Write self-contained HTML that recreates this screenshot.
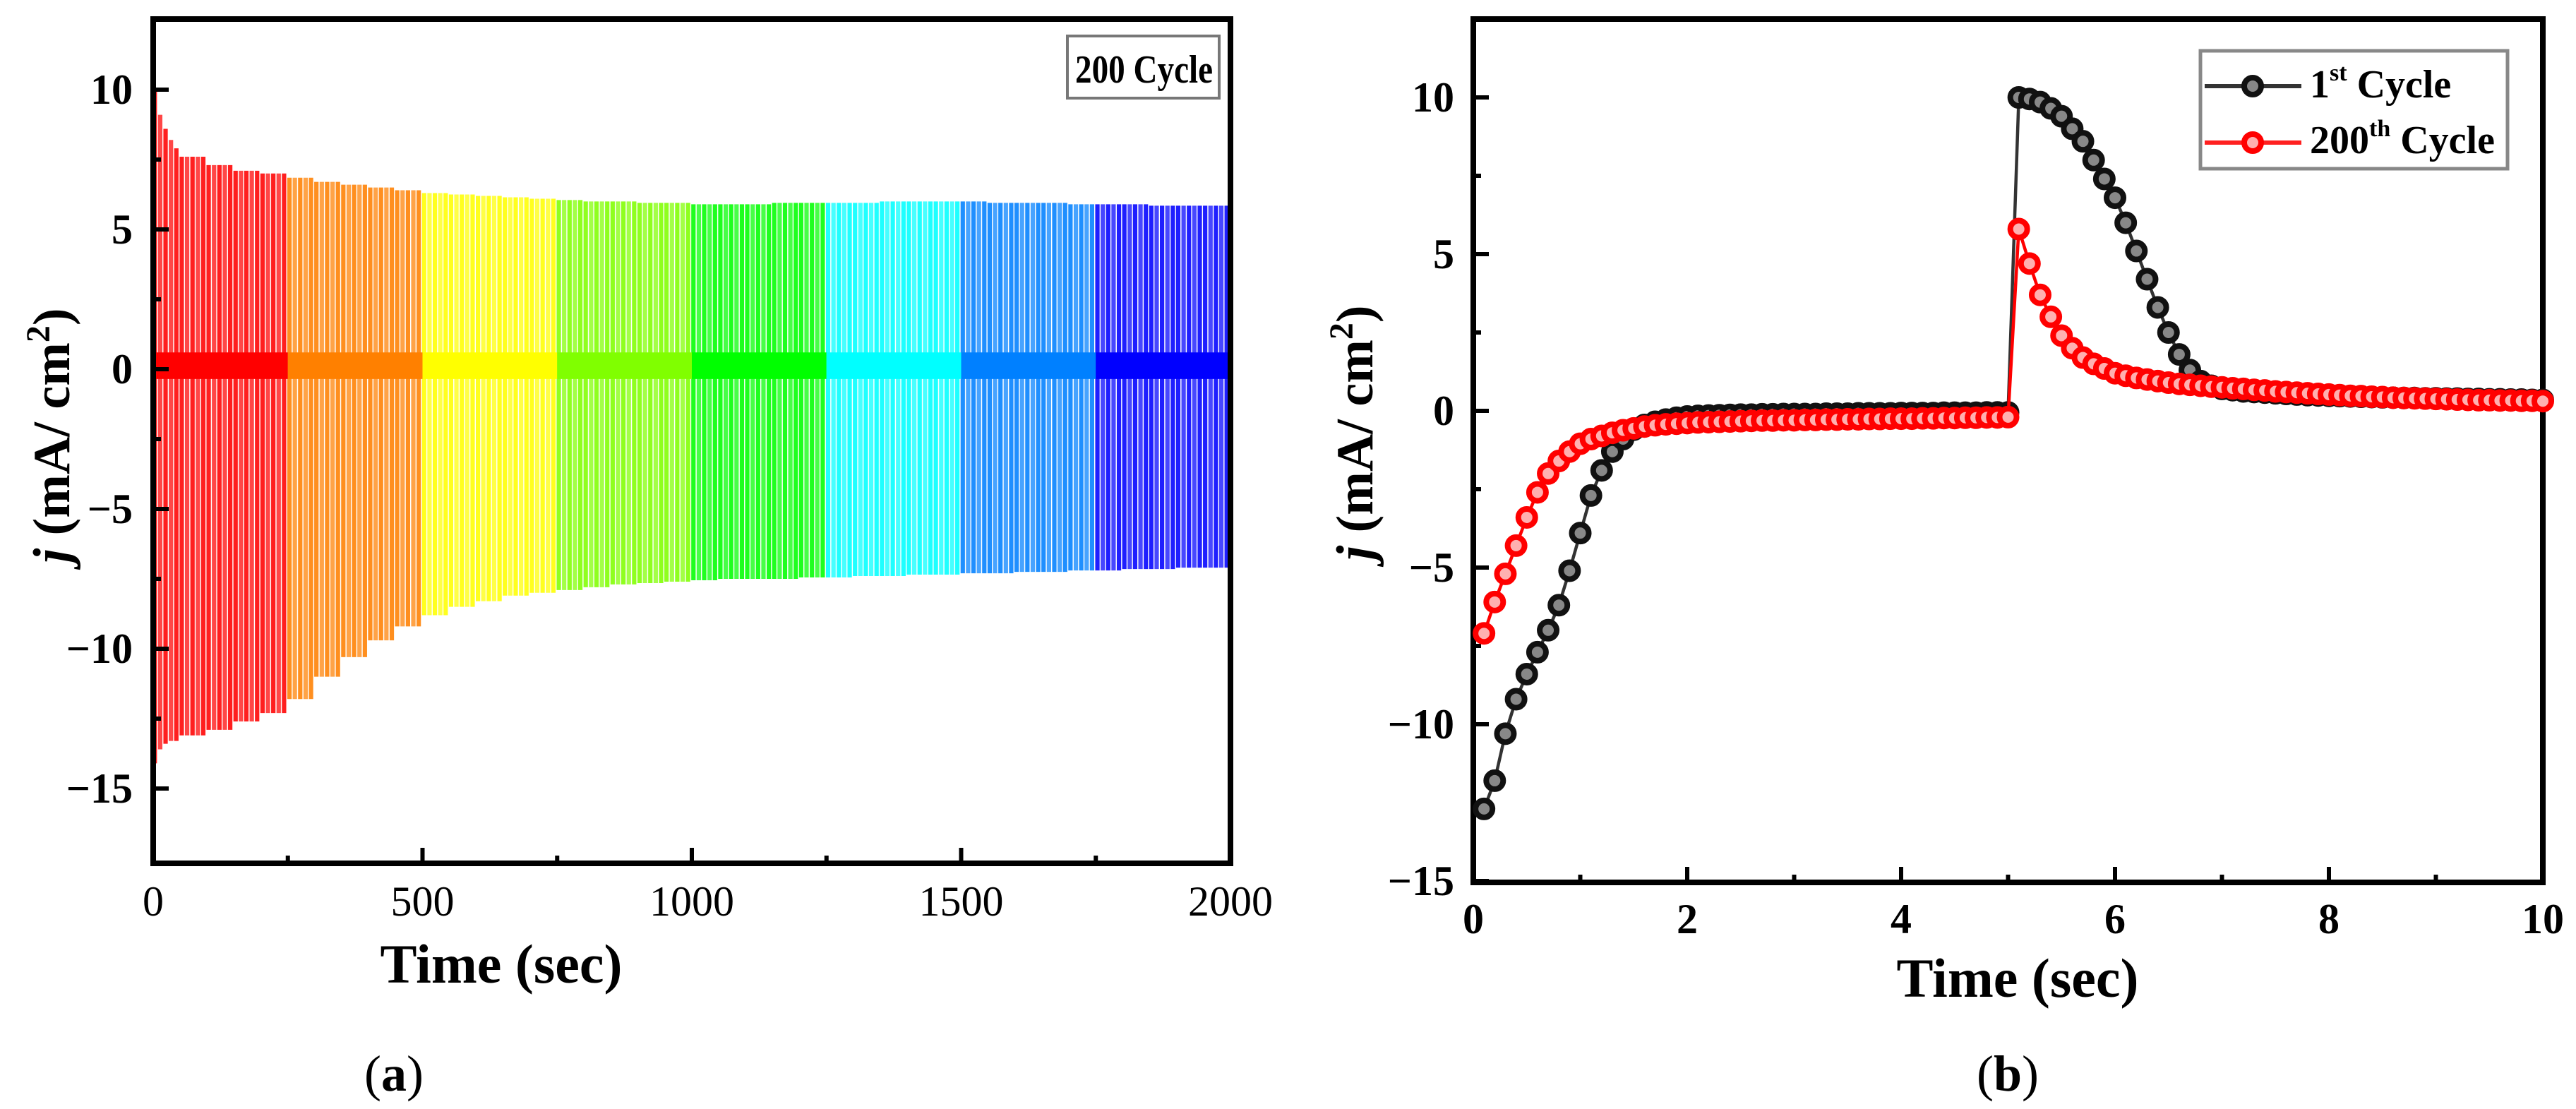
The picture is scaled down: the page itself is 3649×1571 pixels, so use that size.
<!DOCTYPE html>
<html><head><meta charset="utf-8"><style>
html,body{margin:0;padding:0;background:#fff}
svg{display:block}
text{font-family:"Liberation Serif",serif}
</style></head><body>
<svg id="fig" width="3649" height="1571" viewBox="0 0 3649 1571">
<g id="pa"></g>
<g id="pb"></g>
</svg>
<script>
// Panel (a) data: 40 groups of 50 s (5 cycles each)
const aGroupStart = [0,50,100,150,200,250,300,350,400,450,500,550,600,650,700,750,800,850,900,950,1000,1050,1100,1150,1200,1250,1300,1350,1400,1450,1500,1550,1600,1650,1700,1750,1800,1850,1900,1950];
const aPeaks = [8.6,7.6,7.3,7.1,7.0,6.85,6.7,6.6,6.5,6.4,6.3,6.25,6.2,6.15,6.1,6.05,6.0,6.0,5.95,5.95,5.9,5.9,5.9,5.95,5.95,5.95,5.95,6.0,6.0,6.0,6.0,5.95,5.95,5.95,5.9,5.9,5.9,5.85,5.85,5.85];
const aMins = [-13.4,-13.1,-12.9,-12.6,-12.3,-11.8,-11.0,-10.3,-9.7,-9.2,-8.8,-8.5,-8.3,-8.1,-8.0,-7.9,-7.8,-7.7,-7.65,-7.6,-7.55,-7.5,-7.5,-7.5,-7.45,-7.45,-7.4,-7.4,-7.35,-7.35,-7.3,-7.3,-7.25,-7.25,-7.2,-7.2,-7.15,-7.15,-7.1,-7.1];
const aEarlyPeaks = [10,9.1,8.6,8.2,7.9];
const aEarlyMins = [-14.1,-13.6,-13.4,-13.3,-13.3];
const aSegColors = ["#ff0000","#ff8000","#ffff00","#80ff00","#00ff00","#00ffff","#0080ff","#0000ff"];
const aXTicks = [0,500,1000,1500,2000];
const aYTicks = [-15,-10,-5,0,5,10];

// Panel (b) data
const bTime = [];
const bFirst = [-12.7,-11.8,-10.3,-9.2,-8.4,-7.7,-7.0,-6.2,-5.1,-3.9,
-2.7,-1.9,-1.3,-0.9,-0.6,-0.45,-0.35,-0.28,-0.22,-0.18,
-0.16,-0.15,-0.14,-0.13,-0.12,-0.12,-0.11,-0.11,-0.1,-0.1,
-0.1,-0.1,-0.09,-0.09,-0.09,-0.08,-0.08,-0.08,-0.08,-0.07,
-0.07,-0.07,-0.07,-0.06,-0.06,-0.06,-0.06,-0.05,-0.05,-0.05,
10.0,9.95,9.85,9.65,9.4,9.0,8.6,8.0,7.4,6.8,
6.0,5.1,4.2,3.3,2.5,1.8,1.3,0.95,0.8,0.7,
0.66,0.62,0.6,0.58,0.56,0.54,0.52,0.5,0.49,0.48,
0.47,0.46,0.45,0.44,0.43,0.42,0.41,0.41,0.4,0.4,
0.39,0.39,0.38,0.38,0.37,0.37,0.36,0.36,0.35,0.35];
const bLast = [-7.1,-6.1,-5.2,-4.3,-3.4,-2.6,-2.0,-1.6,-1.3,-1.05,
-0.9,-0.8,-0.7,-0.62,-0.56,-0.5,-0.46,-0.43,-0.41,-0.39,
-0.37,-0.36,-0.35,-0.34,-0.33,-0.32,-0.31,-0.31,-0.3,-0.3,
-0.29,-0.29,-0.28,-0.28,-0.27,-0.27,-0.26,-0.26,-0.25,-0.25,
-0.25,-0.24,-0.24,-0.23,-0.23,-0.22,-0.22,-0.21,-0.21,-0.2,
5.8,4.7,3.7,3.0,2.4,2.0,1.7,1.5,1.35,1.2,
1.12,1.05,1.0,0.95,0.9,0.86,0.83,0.8,0.77,0.75,
0.72,0.7,0.67,0.65,0.62,0.6,0.58,0.56,0.54,0.52,
0.5,0.48,0.47,0.45,0.44,0.42,0.41,0.4,0.39,0.38,
0.37,0.36,0.35,0.34,0.34,0.33,0.33,0.32,0.32,0.31];
for (let i = 1; i <= 100; i++) bTime.push(i / 10);
const bXTicks = [0,2,4,6,8,10];
const bYTicks = [-15,-10,-5,0,5,10];

const NS = "http://www.w3.org/2000/svg";
function mk(tag, attrs, parent) {
  const e = document.createElementNS(NS, tag);
  for (const k in attrs) e.setAttribute(k, attrs[k]);
  parent.appendChild(e);
  return e;
}

// ---------- Panel A ----------
const pa = document.getElementById("pa");
const aL = 217, aR = 1743, aT = 27, aB = 1223;
const ax = v => aL + (v / 2000) * (aR - aL);
const ay = v => 523 - v * 39.6;

for (let g = 0; g < aGroupStart.length; g++) {
  for (let k = 0; k < 5; k++) {
    const t = aGroupStart[g] + k * 10 + 3;
    const seg = Math.min(7, Math.floor((aGroupStart[g] + k*10) / 250));
    const pk = g === 0 ? aEarlyPeaks[k] : aPeaks[g];
    const mn = g === 0 ? aEarlyMins[k] : aMins[g];
    const ln = mk("line", {x1: ax(t), x2: ax(t), y1: ay(pk), y2: ay(mn), stroke: aSegColors[seg], "stroke-width": 6.2, "stroke-opacity": (k % 2 ? 0.72 : 0.88)}, pa);
    
    
  }
}
for (let s = 0; s < 8; s++) {
  const band = mk("rect", {x: ax(s*250), y: ay(0.6), width: ax(250)-ax(0), height: ay(-0.35)-ay(0.6), fill: aSegColors[s]}, pa);
  
  
}
const fa = mk("rect", {x: aL, y: aT, width: aR-aL, height: aB-aT, fill: "none", stroke: "#000", "stroke-width": 8}, pa);


aXTicks.forEach(v => {
  mk("line", {x1: ax(v), x2: ax(v), y1: aB, y2: aB-22, stroke: "#000", "stroke-width": 6}, pa);
  if (v < 2000) mk("line", {x1: ax(v+250), x2: ax(v+250), y1: aB, y2: aB-11, stroke: "#000", "stroke-width": 6}, pa);
  const tx = mk("text", {x: ax(v), y: 1297, "font-size": 60, "text-anchor": "middle"}, pa);
  tx.textContent = v;
  
  
});
aYTicks.forEach(v => {
  mk("line", {x1: aL, x2: aL+22, y1: ay(v), y2: ay(v), stroke: "#000", "stroke-width": 6}, pa);
  if (v < 10) mk("line", {x1: aL, x2: aL+11, y1: ay(v+2.5), y2: ay(v+2.5), stroke: "#000", "stroke-width": 6}, pa);
  const ty = mk("text", {x: 188, y: ay(v)+20, "font-size": 60, "font-weight": "bold", "text-anchor": "end"}, pa);
  ty.textContent = v < 0 ? "\u2212" + Math.abs(v) : v;
  
  
});
</script>
<script>
(function(){
const pa = document.getElementById("pa");
pa.insertAdjacentHTML("beforeend",
 '<rect x="1512" y="51" width="215" height="88" fill="#fff" stroke="#777" stroke-width="4"/>' +
 '<text x="1523" y="117" font-size="56" font-weight="bold" textLength="195" lengthAdjust="spacingAndGlyphs">200 Cycle</text>' +
 '<text x="710" y="1392" font-size="78" font-weight="bold" text-anchor="middle">Time (sec)</text>' +
 '<text transform="translate(98,617) rotate(-90)" font-size="74" font-weight="bold" text-anchor="middle"><tspan font-style="italic">j</tspan> (mA/ cm<tspan dy="-28" font-size="48">2</tspan><tspan dy="28">)</tspan></text>' +
 '<text x="558" y="1545" font-size="72" text-anchor="middle">(<tspan font-weight="bold">a</tspan>)</text>'
);
})();
</script>
<script>
// ---------- Panel B ----------
const pb = document.getElementById("pb");
const bL = 2087, bR = 3602, bT = 27, bB = 1250;
const bx = v => bL + (v / 10) * (bR - bL);
const by = v => 582 - v * 44.4;
const bf = mk("rect", {x: bL, y: bT, width: bR-bL, height: bB-bT, fill: "none", stroke: "#000", "stroke-width": 8}, pb);


bXTicks.forEach(v => {
  mk("line", {x1: bx(v), x2: bx(v), y1: bB, y2: bB-22, stroke: "#000", "stroke-width": 6}, pb);
  if (v < 10) mk("line", {x1: bx(v+1), x2: bx(v+1), y1: bB, y2: bB-11, stroke: "#000", "stroke-width": 6}, pb);
  const tx = mk("text", {x: bx(v), y: 1322, "font-size": 60, "font-weight": "bold", "text-anchor": "middle"}, pb);
  tx.textContent = v;
  
  
});
bYTicks.forEach(v => {
  mk("line", {x1: bL, x2: bL+22, y1: by(v), y2: by(v), stroke: "#000", "stroke-width": 6}, pb);
  if (v < 10) mk("line", {x1: bL, x2: bL+11, y1: by(v+2.5), y2: by(v+2.5), stroke: "#000", "stroke-width": 6}, pb);
  const ty = mk("text", {x: 2060, y: by(v)+20, "font-size": 60, "font-weight": "bold", "text-anchor": "end"}, pb);
  ty.textContent = v < 0 ? "\u2212" + Math.abs(v) : v;
  
  
});
function series(vals, color, fill, hl, name) {
  const pts = vals.map((v, i) => bx(bTime[i]).toFixed(1) + "," + by(v).toFixed(1)).join(" ");
  const pl = mk("polyline", {points: pts, fill: "none", stroke: color, "stroke-width": 4.5}, pb);
  
  
  vals.forEach((v, i) => {
    const c = mk("circle", {cx: bx(bTime[i]), cy: by(v), r: 12, fill: hl, stroke: fill, "stroke-width": 8}, pb);
    
    
  });
}
series(bFirst, "#333", "#111", "#888", "first-cycle");
series(bLast, "#ff0000", "#ff0000", "#ffb0b0", "cycle-200");
</script>
<script>
(function(){
const pb = document.getElementById("pb");
pb.insertAdjacentHTML("beforeend",
 '<g>' +
 '<rect x="3117" y="72" width="435" height="167" fill="#fff" stroke="#888" stroke-width="5"/>' +
 '<line x1="3123" x2="3260" y1="122" y2="122" stroke="#333" stroke-width="6"/>' +
 '<circle cx="3191" cy="122" r="12" fill="#888" stroke="#111" stroke-width="8"/>' +
 '<text x="3272" y="138" font-size="56" font-weight="bold">1<tspan dy="-24" font-size="34">st</tspan><tspan dy="24"> Cycle</tspan></text>' +
 '<line x1="3123" x2="3260" y1="202" y2="202" stroke="#ff2020" stroke-width="6"/>' +
 '<circle cx="3191" cy="202" r="12" fill="#ffb0b0" stroke="#ff0000" stroke-width="8"/>' +
 '<text x="3272" y="217" font-size="56" font-weight="bold">200<tspan dy="-24" font-size="34">th</tspan><tspan dy="24"> Cycle</tspan></text>' +
 '</g>' +
 '<text x="2858" y="1412" font-size="78" font-weight="bold" text-anchor="middle">Time (sec)</text>' +
 '<text transform="translate(1944,613) rotate(-90)" font-size="74" font-weight="bold" text-anchor="middle"><tspan font-style="italic">j</tspan> (mA/ cm<tspan dy="-28" font-size="48">2</tspan><tspan dy="28">)</tspan></text>' +
 '<text x="2844" y="1545" font-size="72" text-anchor="middle">(<tspan font-weight="bold">b</tspan>)</text>'
);
})();
</script>
</body></html>
